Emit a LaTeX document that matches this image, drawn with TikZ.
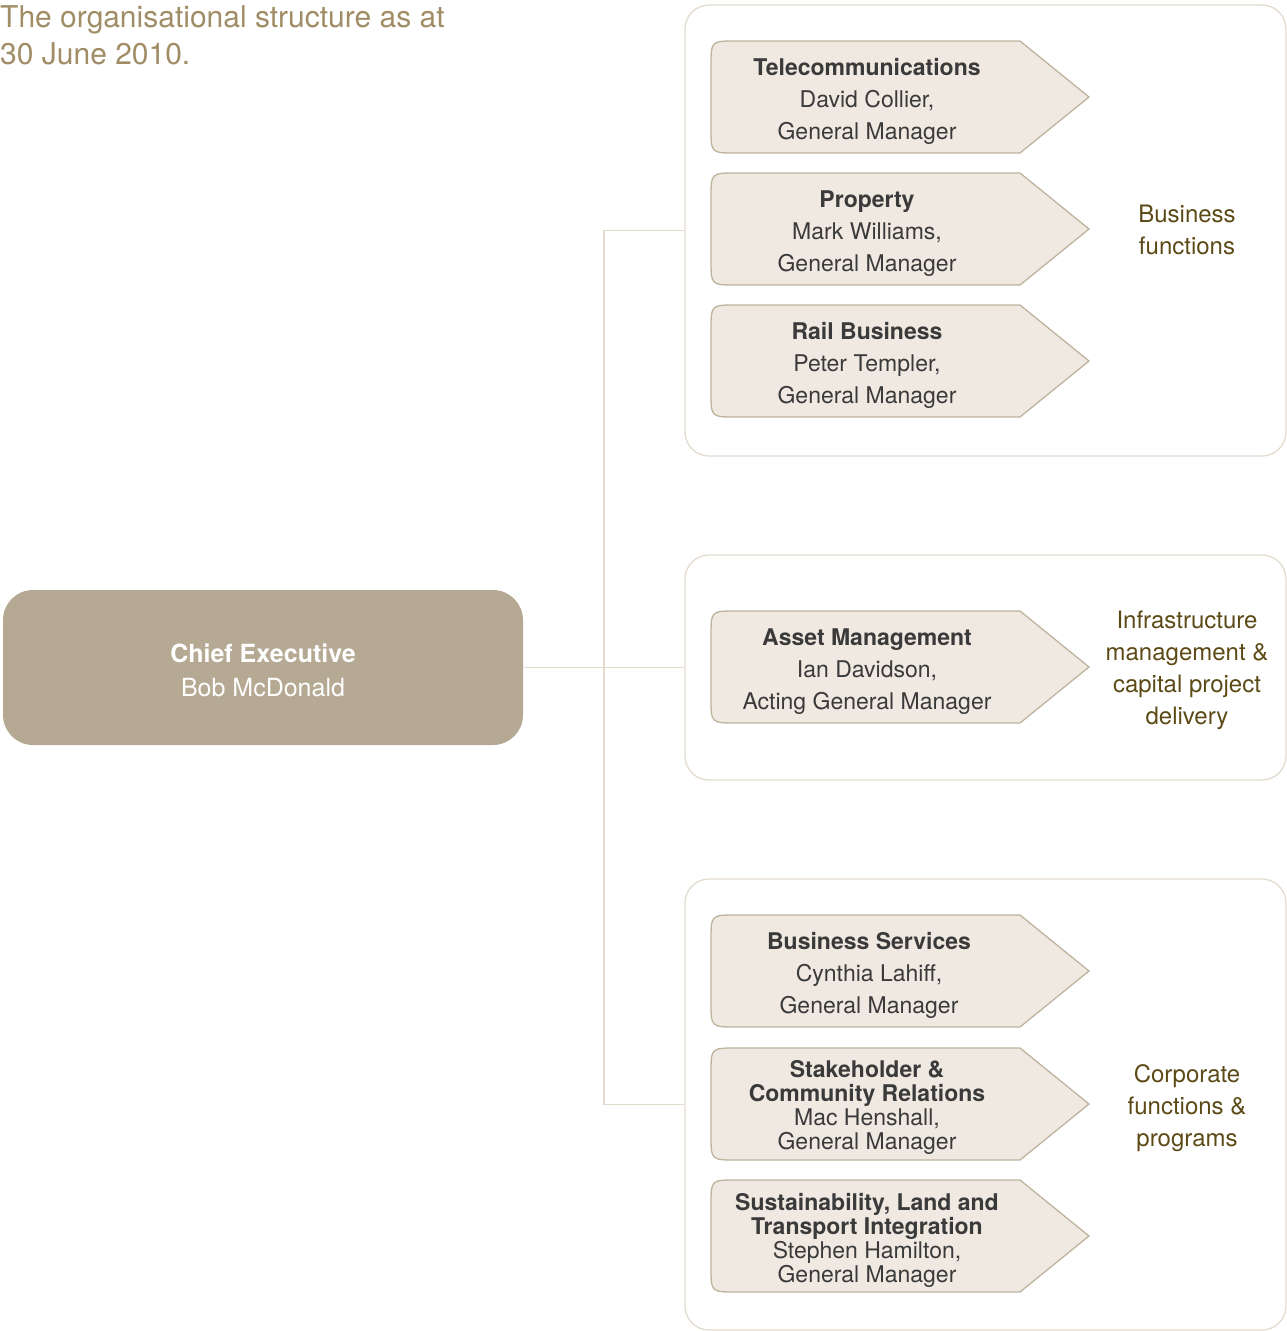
\documentclass[tikz,border=0pt]{standalone}
\usepackage{fontspec}
\setmainfont{TeX Gyre Heros}

\definecolor{titlegold}{RGB}{160,141,102}
\definecolor{cefill}{RGB}{181,169,147}
\definecolor{chevfill}{RGB}{239,233,225}
\definecolor{chevline}{RGB}{190,179,157}
\definecolor{grpline}{RGB}{226,219,206}
\definecolor{unittext}{RGB}{58,58,58}
\definecolor{grptext}{RGB}{92,74,22}

\begin{document}
\begin{tikzpicture}[x=1pt,y=-1pt,
  unit/.style={align=center,text=unittext,font=\fontsize{23}{32}\selectfont},
  tightunit/.style={align=center,text=unittext,font=\fontsize{23}{24}\selectfont},
  chev/.style={draw=chevline,fill=chevfill,line width=1.3pt},
  grp/.style={draw=grpline,line width=1.3pt,rounded corners=24pt,minimum width=601pt},
  grplabel/.style={align=center,text=grptext,font=\fontsize{24}{32}\selectfont},
  link/.style={draw=grpline,line width=1.6pt}]
  \useasboundingbox (0,0) rectangle (1287,1331);

  \node[anchor=north west,inner sep=0pt,align=left,text=titlegold,
    font=\fontsize{30}{37}\selectfont] (title) at (0,5)
    {The organisational structure as at\\30 June 2010.};

  % groups
  \node[grp,minimum height=451pt] (busgrp) at (985.5,230.5) {};
  \node[grp,minimum height=225pt] (infgrp) at (985.5,667.5) {};
  \node[grp,minimum height=451pt] (corpgrp) at (985.5,1104.5) {};

  % chief executive
  \node[fill=cefill,rounded corners=30pt,minimum width=520pt,minimum height=155pt,
    align=center,text=white,font=\fontsize{25}{34}\selectfont] (ceo) at (263,667.5) {};
  \node[align=center,text=white,font=\fontsize{25}{34}\selectfont] (ceotext) at (263,670)
    {\textbf{Chief Executive}\\Bob McDonald};

  \draw[link] (ceo.east) -- (infgrp.west);
  \coordinate (fork) at (604,667.5);
  \draw[link] (busgrp.west) -| (fork) |- (corpgrp.west);

  % chevrons
  \foreach \c in {97,229,361,667,971,1104,1236}
    \draw[chev] (1020,\c-56) -- (1089,\c) -- (1020,\c+56) -- (736,\c+56)
      .. controls (711,\c+56) .. (711,\c+31) -- (711,\c-31)
      .. controls (711,\c-56) .. (736,\c-56) -- cycle;

  \node[unit] (telecom) at (867,101) {\textbf{Telecommunications}\\David Collier,\\General Manager};
  \node[unit] (property) at (867,234) {\textbf{Property}\\Mark Williams,\\General Manager};
  \node[unit] (rail) at (867,365) {\textbf{Rail Business}\\Peter Templer,\\General Manager};
  \node[unit] (asset) at (867,672) {\textbf{Asset Management}\\Ian Davidson,\\Acting General Manager};
  \node[unit] (bizserv) at (869,975) {\textbf{Business Services}\\Cynthia Lahiff,\\General Manager};
  \node[tightunit] (stake) at (867,1107) {\textbf{Stakeholder \&}\\\textbf{Community Relations}\\Mac Henshall,\\General Manager};
  \node[tightunit] (sustain) at (867,1240) {\textbf{Sustainability, Land and}\\\textbf{Transport Integration}\\Stephen Hamilton,\\General Manager};

  \node[grplabel] (buslabel) at (1187,230) {Business\\functions};
  \node[grplabel] (inflabel) at (1187,670) {Infrastructure\\management \&\\capital project\\delivery};
  \node[grplabel] (corplabel) at (1187,1108) {Corporate\\functions \&\\programs};
\end{tikzpicture}
\end{document}
